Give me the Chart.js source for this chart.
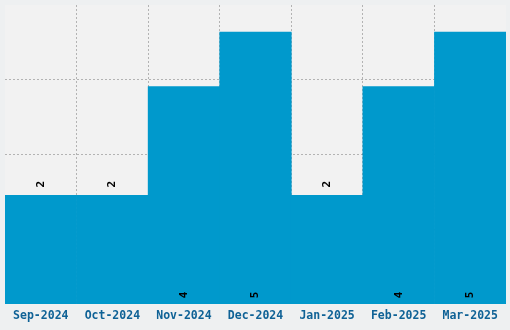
<!DOCTYPE html>
<html><head><meta charset="utf-8">
<script src="https://cdn.jsdelivr.net/npm/chart.js@4/dist/chart.umd.min.js"></script>
<style>html,body{margin:0;padding:0;background:#eef0f1;}#wrap{width:510px;height:330px;}</style>
</head><body><div id="wrap"><canvas id="c" width="510" height="330"></canvas></div>
<script>
const categories = ["Sep-2024","Oct-2024","Nov-2024","Dec-2024","Jan-2025","Feb-2025","Mar-2025"];
const values = [2,2,4,5,2,4,5];
const yMax = 5.5;
const yStep = 1.375;

const bgPlugin = {
  id:'bg',
  beforeDraw(chart){
    const {ctx, chartArea:a} = chart;
    ctx.save();
    ctx.fillStyle = '#f2f2f2';
    ctx.fillRect(a.left, a.top, a.right-a.left, a.bottom-a.top);
    ctx.restore();
  }
};
const labelPlugin = {
  id:'lbl',
  afterDraw(chart){
    const {ctx} = chart;
    const meta = chart.getDatasetMeta(0);
    const y = chart.scales.y;
    ctx.save();
    ctx.font = 'bold 11px "DejaVu Sans Mono"';
    ctx.fillStyle = '#000';
    ctx.textBaseline = 'middle';
    meta.data.forEach((bar, i) => {
      const v = values[i];
      const cy = v <= 2 ? bar.y - 8 : y.bottom - 6;
      ctx.save();
      ctx.translate(bar.x, cy);
      ctx.rotate(-Math.PI/2);
      ctx.textAlign = 'left';
      ctx.fillText(String(v), 0, 0);
      ctx.restore();
    });
    ctx.restore();
  }
};
const gridCol = 'rgba(0,0,0,0.26)';
const none = 'rgba(0,0,0,0)';
new Chart(document.getElementById('c'), {
  type:'bar',
  data:{labels:categories, datasets:[{data:values, backgroundColor:'#0099cc', borderWidth:0, categoryPercentage:1, barPercentage:1}]},
  options:{
    responsive:false, animation:false,
    layout:{padding:{left:5,top:5,right:4,bottom:2}},
    plugins:{legend:{display:false}, tooltip:{enabled:false}},
    scales:{
      x:{z:1, grid:{color:(c)=> (c.type!=='tick' || c.index===0) ? none : gridCol, drawTicks:false, offset:true}, border:{display:false, dash:[2,2]},
         ticks:{color:'#0f6296', padding:5, font:{family:'"DejaVu Sans Mono"', weight:'bold', size:11.5}}},
      y:{z:1, min:0, max:yMax, ticks:{display:false, stepSize:yStep}, grid:{color:(c)=> (c.type!=='tick' || c.tick.value===0 || c.tick.value>=yMax) ? none : gridCol, drawTicks:false}, border:{display:false, dash:[2,2]}}
    }
  },
  plugins:[bgPlugin, labelPlugin]
});
</script></body></html>
